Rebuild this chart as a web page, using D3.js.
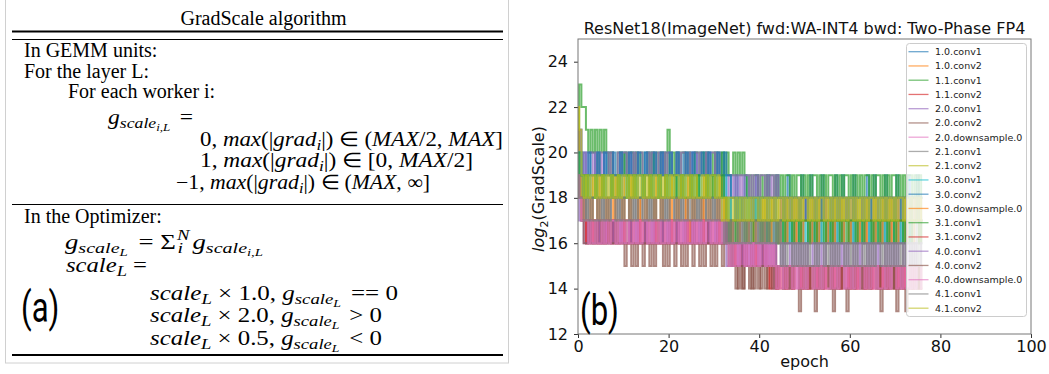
<!DOCTYPE html>
<html>
<head>
<meta charset="utf-8">
<script src="https://d3js.org/d3.v7.min.js"></script>
<style>
  html, body { margin: 0; padding: 0; background: #fff; }
  svg { display: block; }
</style>
</head>
<body>
<svg id="fig" width="1049" height="374"></svg>
<script>
// ---- data: log2(GradScale) per layer, sampled every half epoch ----
const layers = ['1.0.conv1','1.0.conv2','1.1.conv1','1.1.conv2','2.0.conv1','2.0.conv2','2.0.downsample.0',
  '2.1.conv1','2.1.conv2','3.0.conv1','3.0.conv2','3.0.downsample.0','3.1.conv1','3.1.conv2',
  '4.0.conv1','4.0.conv2','4.0.downsample.0','4.1.conv1','4.1.conv2'];
const epochStep = 0.5;
const xTicks = [0, 20, 40, 60, 80, 100];
const yTicks = [12, 14, 16, 18, 20, 22, 24];

const l1_0_conv1 = [20,21,
  19,20,19,19,20,20,19,20,19,19,20,19,20,20,19,19,19,20,19,20,19,19,20,19,20,19,19,19,20,20,
  19,20,19,19,19,20,19,20,20,19,19,19,20,19,19,20,19,19,20,19,20,19,19,19,20,19,20,19,19,20,19,19,20,19,19,19,
  18,18,19,18,18,18,19,18,18,18,18,19,18,18,18,18,19,18,18,18,19,18,18,18,18,19,18,18,18,18,
  18,19,18,18,18,19,18,18,18,18,19,18,18,18,18,18,19,18,18,19,18,18,18,18,19,18,18,18,18,18,
  19,18,18,19,18,18,18,18,19,18,18,18,18,19,18,18,18,18,19,18,18,18,19,18,18];
const l1_0_conv2 = [19,20,
  18,19,19,18,19,18,18,19,18,19,19,18,18,19,18,19,18,18,19,18,18,19,18,19,19,18,18,19,18,18,
  19,18,19,18,18,19,19,18,18,19,18,18,19,18,19,18,18,19,18,19,19,18,18,18,19,18,19,18,18,19,18,19,18,18,
  17,18,17,17,18,17,18,17,17,18,17,17,18,17,17,18,17,18,17,17,18,17,17,17,18,17,18,17,17,18,
  17,18,17,17,17,18,17,17,18,17,17,18,17,18,17,17,17,18,17,17,18,17,17,18,17,17,18,17,17,17,
  18,17,18,17,17,18,17,17,17,18,17,17,18,17,17,18,17,17,18,17,17,18,17,17,18,17,17];
const l1_1_conv1 = [21,23,22,22,21,20,21,20,21,19,21,20,21,
  20,19,20,19,19,20,20,19,20,19,20,20,19,20,19,20,19,19,20,19,20,19,20,19,20,20,19,21,19,20,
  19,20,19,20,20,19,20,19,19,20,20,19,20,19,20,19,19,20,19,20,19,20,19,20,19,19,20,19,20,19,20,
  19,18,19,18,19,19,18,19,18,19,18,19,19,18,19,18,19,18,19,19,18,19,18,19,19,18,19,18,19,18,
  19,19,18,19,18,19,18,19,19,18,19,18,19,18,19,19,18,19,18,19,18,19,18,19,19,18,19,18,19,19,
  18,19,18,19,18,19,19,18,19,18,19,18,19,19,18,19,18,19,18];
const l1_1_conv2 = [18,19,18,17,
  16,17,17,16,17,16,16,17,16,17,17,16,17,16,16,17,17,16,16,17,16,17,16,16,17,16,17,17,16,16,
  17,16,17,16,16,17,16,17,16,17,17,16,16,17,16,17,16,16,17,16,17,16,17,17,16,16,17,16,17,16,16,17,16,17,
  16,15,16,15,15,16,15,16,16,15,16,15,15,16,15,16,15,16,15,16,
  14,15,14,15,14,14,15,14,15,15,14,15,14,14,15,14,15,14,15,14,14,15,15,14,15,14,14,15,14,15,
  15,14,15,14,14,15,14,15,14,14,15,14,15,15,14,14,15,14,15,14,14,15,14,15,14,15,15,14,14,15,
  14,15,14,15,14];
const l2_0_conv1 = [20,21,
  19,20,19,20,20,19,20,19,20,19,20,20,19,20,19,19,20,19,20,20,19,20,19,20,19,20,20,19,19,20,
  19,20,20,19,20,19,20,19,20,20,19,19,20,19,20,20,19,20,19,20,20,19,20,19,19,20,19,20,20,19,20,
  19,18,19,18,19,19,18,19,18,19,18,19,19,18,19,18,19,18,19,19,18,19,18,19,18,19,18,
  17,18,17,18,17,17,18,17,18,17,18,17,17,18,17,18,18,17,17,18,17,18,17,17,18,17,18,17,18,17,
  17,18,17,18,17,17,18,18,17,17,18,17,18,17,17,18,17,18,17,18,17,17,18,17,18,17,17,18,17,18,
  17,18,17];
const l2_0_conv2 = [21,20,19,18,
  16,17,16,16,17,16,17,16,16,17,16,16,17,16,17,16,16,17,16,17,17,16,16,17,16,16,17,16,17,16,
  16,17,16,16,17,16,17,16,16,17,16,17,16,16,17,16,16,17,16,17,16,16,17,16,17,16,16,17,16,16,17,16,16,17,
  15,15,14,15,15,14,15,15,15,14,15,15,14,15,15,15,14,15,15,14,15,15,15,14,15,15,14,15,15,15,
  14,15,15,14,15,15,15,14,15,15,14,15,15,15,14,15,15,14,15,15,15,14,15,15,14,15,15,15,14,15,
  15,14,15,15,15,14,15,15,14,15,15,15,14,15,15,14,15,15,15,14,15,15,14,15,15];
const l2_0_downsample_0 = [20,19,18,17,
  16,17,16,17,17,16,17,16,17,16,17,16,16,17,16,17,16,17,17,16,17,16,17,16,17,16,16,17,16,17,
  16,17,17,16,17,16,17,16,16,17,16,17,16,17,16,17,17,16,17,16,17,16,17,16,16,17,16,17,16,17,16,17,16,17,
  16,15,16,15,16,16,15,16,15,16,15,16,15,16,16,15,16,15,
  14,15,14,15,15,14,15,14,15,14,15,14,15,14,14,15,14,15,15,14,15,14,15,14,15,14,15,15,14,15,
  14,15,14,15,14,15,14,14,15,14,15,14,15,15,14,15,14,15,14,15,14,15,14,15,15,14,15,14,15,14,
  15,14,15,14,15,14,15];
const l2_1_conv1 = [19,19,18,18,
  17,18,17,18,18,17,18,17,18,17,18,17,17,18,17,18,17,18,18,17,18,17,18,17,18,17,17,18,17,18,
  17,18,18,17,18,17,18,17,17,18,17,18,17,18,17,18,18,17,18,17,18,17,18,17,17,18,17,18,17,18,
  16,17,16,17,17,16,17,16,17,16,17,16,17,17,16,17,16,17,16,17,16,17,16,16,17,16,17,17,16,17,
  16,17,16,17,16,17,16,16,17,16,17,16,17,16,17,17,16,17,16,17,16,17,16,17,16,16,17,16,17,16,
  17,17,16,17,16,17,16,17,16,16,17,16,17,16,17,16,17,17,16,17,16,17,16,17,16,16,17,16,17];
const l2_1_conv2 = [22,20,
  18,19,18,19,19,18,19,18,18,19,18,19,19,18,19,18,19,18,18,19,19,18,19,18,19,19,18,19,18,18,
  19,18,19,19,18,19,18,19,18,19,18,18,19,18,19,18,19,19,18,19,18,19,18,18,19,18,19,18,19,19,18,19,
  18,17,18,17,18,18,17,18,17,18,17,18,17,18,18,17,18,17,18,17,18,17,18,18,17,18,17,18,17,18,
  18,17,18,17,18,17,18,18,17,18,17,18,17,18,17,18,18,17,18,17,18,17,18,17,18,18,17,18,17,18,
  17,18,18,17,18,17,18,17,18,18,17,18,17,18,17,18,17,18,18,17,18,17,18,17,18,18,17,18,17];
const l3_0_conv1 = [19,20,19,
  18,18,19,18,18,19,18,18,18,19,18,18,19,18,18,18,19,18,18,19,18,18,18,19,18,18,19,18,18,18,
  19,18,18,19,18,18,18,19,18,18,18,19,18,18,19,18,18,18,19,18,18,19,18,18,18,19,18,18,19,18,18,18,19,
  17,18,17,17,18,17,18,17,17,18,17,17,18,17,18,17,
  16,17,16,17,16,17,17,16,17,16,17,16,17,16,17,17,16,17,16,17,16,17,16,17,17,16,17,16,17,16,
  17,16,17,16,17,16,17,17,16,17,16,17,16,17,16,17,17,16,17,16,17,16,17,16,17,16,17,17,16,17,
  16,17,16,17,16,17,16,17,17,16,17];
const l3_0_conv2 = [20,20,19,
  19,19,20,19,19,19,20,19,19,20,19,19,19,20,19,19,20,19,19,19,20,19,19,19,20,19,19,20,19,19,
  19,20,19,19,20,19,19,19,20,19,19,20,19,19,19,20,19,19,20,19,19,19,20,19,19,20,19,19,19,20,19,19,20,19,19,
  18,18,17,18,18,17,18,18,18,17,18,18,17,18,18,18,17,18,18,17,18,18,18,17,18,18,17,18,18,18,
  17,18,18,17,18,18,18,17,18,18,17,18,18,18,17,18,18,17,18,18,18,17,18,18,17,18,18,18,17,18,
  18,17,18,18,18,17,18,18,17,18,18,18,17,18,18,17,18,18,18,17,18,18,17,18,18];
const l3_0_downsample_0 = [19,18,18,17,
  17,17,18,17,17,18,17,17,17,18,17,17,18,17,17,17,18,17,17,18,17,17,17,18,17,17,18,17,17,17,
  18,17,17,18,17,17,17,18,17,17,18,17,17,17,18,17,17,18,17,17,17,18,17,17,18,17,17,17,18,17,17,18,
  17,17,16,17,17,16,17,17,17,16,17,17,16,17,17,17,16,17,17,16,17,17,17,16,17,17,16,17,17,17,
  16,17,17,16,17,17,17,16,17,17,16,17,17,17,16,17,17,16,17,17,17,16,17,17,16,17,17,17,16,17,
  17,16,17,17,17,16,17,17,16,17,17,17,16,17,17,16,17,17,17,16,17,17,16,17,17,16,17];
const l3_1_conv1 = [20,19,19,
  18,19,18,18,18,19,18,18,19,18,18,18,19,18,18,19,18,18,18,19,18,18,19,18,18,18,19,18,18,19,
  18,18,18,19,18,18,19,18,18,18,19,18,18,19,18,18,18,19,18,18,19,18,18,18,19,18,18,19,18,18,18,19,18,
  17,16,17,17,16,17,17,17,16,17,17,16,17,17,17,16,17,17,16,17,17,17,16,17,17,16,17,17,17,16,
  17,17,16,17,17,17,16,17,17,16,17,17,17,16,17,17,16,17,17,17,16,17,17,16,17,17,17,16,17,17,
  16,17,17,17,16,17,17,16,17,17,17,16,17,17,16,17,17,17,16,17,17,16,17,17,17,16,17];
const l3_1_conv2 = [18,18,17,17,
  16,16,17,16,16,17,16,16,16,17,16,16,17,16,16,16,17,16,16,17,16,16,16,17,16,16,17,16,16,16,
  17,16,16,17,16,16,16,17,16,16,17,16,16,16,17,16,16,17,16,16,16,17,16,16,17,16,16,16,17,16,16,17,16,16,
  16,15,16,16,15,16,15,16,16,15,16,15,16,16,15,16,
  15,14,15,15,14,15,15,15,14,15,15,14,15,15,15,14,15,15,14,15,15,15,14,15,15,14,15,15,15,14,
  15,15,14,15,15,15,14,15,15,14,15,15,15,14,15,15,14,15,15,15,14,15,15,14,15,15,15,14,15,15,
  14,15,15,15,14,15,15,14,15];
const l4_0_conv1 = [18,17,17,16,
  16,17,16,16,16,17,16,16,17,16,16,16,17,16,16,17,16,16,16,17,16,16,17,16,16,16,17,16,16,17,
  16,16,16,17,16,16,17,16,16,16,17,16,16,17,16,16,16,17,16,16,17,16,16,16,17,16,16,17,16,16,16,17,
  15,16,15,16,16,15,16,15,16,15,16,15,16,16,15,16,15,16,15,16,15,16,15,15,16,15,16,16,15,16,
  15,16,15,16,15,16,15,15,16,15,16,15,16,15,16,16,15,16,15,16,15,16,15,16,15,15,16,15,16,15,
  16,16,15,16,15,16,15,16,15,15,16,15,16,15,16,15,16,16,15,16,15,16,15,16,15,15,16];
const l4_0_conv2 = [19,18,17,16,
  16,17,16,16,17,16,16,17,16,16,17,16,16,17,16,16,
  16,15,16,16,15,16,15,16,16,15,16,16,15,16,15,16,16,16,15,16,15,16,16,15,16,16,15,16,15,16,
  16,15,16,16,15,16,15,16,16,15,16,15,16,16,15,16,16,15,16,15,
  15,14,15,14,15,15,14,15,14,15,15,14,15,14,15,15,14,15,14,15,
  15,14,15,14,15,14,15,15,13,14,15,14,15,14,15,13,14,15,14,15,15,14,15,13,14,15,14,15,14,13,
  14,15,14,15,15,14,15,14,15,14,15,15,14,15,13,14,15,14,15,14,15,13,14,15,14,13,14,15,14,15,
  14,15,14];
const l4_0_downsample_0 = [19,18,17,17,
  17,16,17,16,17,16,16,17,16,17,16,17,17,16,17,16,17,16,17,16,16,17,16,17,16,17,17,16,17,16,
  17,16,17,16,16,17,16,17,16,17,17,16,17,16,17,16,16,17,16,17,16,17,16,17,17,16,17,16,17,16,17,16,
  16,15,16,15,16,15,16,16,15,16,15,16,15,16,15,16,16,15,16,15,16,15,
  14,15,14,15,14,15,15,14,15,14,15,14,15,14,15,15,14,15,14,15,14,15,14,14,15,14,15,14,15,15,
  14,15,14,15,14,15,14,15,15,14,15,14,15,14,15,14,14,15,14,15,14,15,15,14,15,14,15,14,15,14,
  15,14,15,15,14];
const l4_1_conv1 = [19,18,18,17,
  18,17,18,17,17,18,17,18,17,18,17,18,18,17,18,17,18,17,17,18,17,18,17,18,18,17,18,17,18,17,
  18,17,17,18,17,18,17,18,18,17,18,17,18,17,17,18,17,18,17,18,17,18,18,17,18,17,18,17,18,17,
  17,16,17,16,17,16,16,17,16,17,16,17,16,17,17,16,17,16,17,16,17,16,16,17,16,17,
  15,16,15,16,16,15,16,15,16,15,16,15,16,15,15,16,15,16,16,15,16,15,16,15,16,15,16,16,15,16,
  15,16,15,16,15,15,16,15,16,15,16,15,16,16,15,16,15,16,15,16,15,16,15,16,15,16,16,15,16,15,
  16,15,16];
const l4_1_conv2 = [22,21,
  19,18,19,18,19,19,18,19,18,19,18,19,18,19,18,18,19,18,19,19,18,19,18,19,18,19,19,18,19,18,
  19,18,19,18,19,18,18,19,18,19,18,19,19,18,19,18,19,18,19,18,19,18,18,19,18,19,18,19,19,18,19,18,
  17,18,17,18,18,17,18,17,18,17,18,17,18,17,18,18,17,18,17,18,17,18,17,18,17,18,18,17,18,17,
  18,17,18,17,18,17,18,18,17,18,17,18,17,18,18,17,18,17,18,17,18,17,18,17,18,17,18,18,17,18,
  17,18,17,18,17,18,18,17,18,17,18,17,18,17,18,17,18,17,18,18,17,18,17,18,17,18,17,18,17];

const seriesValues = [l1_0_conv1, l1_0_conv2, l1_1_conv1, l1_1_conv2, l2_0_conv1, l2_0_conv2, l2_0_downsample_0,
  l2_1_conv1, l2_1_conv2, l3_0_conv1, l3_0_conv2, l3_0_downsample_0, l3_1_conv1, l3_1_conv2,
  l4_0_conv1, l4_0_conv2, l4_0_downsample_0, l4_1_conv1, l4_1_conv2];

const svg = d3.select('#fig');
const serif = '"Liberation Serif", "Times New Roman", serif';
const sans = '"DejaVu Sans", sans-serif';

// ---------------- panel (a): algorithm box ----------------
const pa = svg.append('g');
pa.append('rect').attr('x', 5.5).attr('y', -1).attr('width', 503).attr('height', 364)
  .attr('fill', 'none').attr('stroke', '#d0d0d0');
pa.append('text').attr('x', 263.5).attr('y', 25).attr('text-anchor', 'middle')
  .style('font-family', serif).style('font-size', '20px').text('GradScale algorithm');
[[31.5, 2], [39.5, 1], [204.5, 1], [355, 2]].forEach(([yy, w]) =>
  pa.append('line').attr('x1', 12).attr('x2', 503).attr('y1', yy).attr('y2', yy)
    .attr('stroke', '#000').attr('stroke-width', w));

// pieces of a math line: r roman, i italic, s subscript, ss sub-subscript, sup superscript
const sty = {
  r: { size: 20, shift: 0, italic: false },
  i: { size: 20, shift: 0, italic: true },
  s: { size: 15, shift: 4, italic: true },
  ss: { size: 11, shift: 7, italic: true },
  sup: { size: 14, shift: -9, italic: true }
};
function mathLine(x, y, parts, width) {
  const t = pa.append('text').attr('x', x).attr('y', y).style('font-family', serif);
  let cur = 0;
  parts.forEach(([txt, k, dx]) => {
    const s = sty[k];
    const ts = t.append('tspan').attr('dy', s.shift - cur).style('font-size', s.size + 'px')
      .style('font-style', s.italic ? 'italic' : 'normal').text(txt);
    if (dx) ts.attr('dx', dx);
    cur = s.shift;
  });
  if (width) t.attr('textLength', width).attr('lengthAdjust', 'spacingAndGlyphs');
  return t;
}
mathLine(24, 57, [['In GEMM units:', 'r']]);
mathLine(24, 78, [['For the layer L:', 'r']]);
mathLine(68, 98, [['For each worker i:', 'r']]);
mathLine(108, 124, [['g', 'i'], ['scale', 's'], ['i,L', 'ss'], [' =', 'r', 3]], 85);
mathLine(200, 146, [['0, ', 'r'], ['max', 'i'], ['(|', 'r'], ['grad', 'i'], ['i', 's'], ['|) ∈ (', 'r'],
  ['MAX', 'i'], ['/2, ', 'r'], ['MAX', 'i'], [']', 'r']], 303);
mathLine(200, 167, [['1, ', 'r'], ['max', 'i'], ['(|', 'r'], ['grad', 'i'], ['i', 's'], ['|) ∈ [0, ', 'r'],
  ['MAX', 'i'], ['/2]', 'r']], 273);
mathLine(176, 189, [['−1, ', 'r'], ['max', 'i'], ['(|', 'r'], ['grad', 'i'], ['i', 's'], ['|) ∈ (', 'r'],
  ['MAX', 'i'], [', ∞]', 'r']], 254);
mathLine(24, 223, [['In the Optimizer:', 'r']]);
// summation with stacked limits
mathLine(65, 249, [['g', 'i'], ['scale', 's'], ['L', 'ss'], [' = ', 'r', 3], ['Σ', 'r'], ['N', 'sup', 1],
  ['i', 's', -9], ['   g', 'i', 2], ['scale', 's'], ['i,L', 'ss']], 198);
mathLine(66, 272, [['scale', 'i'], ['L', 's'], [' =', 'r']], 81);
[['1.0', ' == 0', 300, 248], ['2.0', ' > 0', 322, 232], ['0.5', ' < 0', 345, 232]].forEach(([f, c, yy, w]) =>
  mathLine(150, yy, [['scale', 'i'], ['L', 's'], [` × ${f},  `, 'r'], ['g', 'i'], ['scale', 's'], ['L', 'ss'], [c, 'r', 3]], w));
pa.append('text').attr('transform', 'translate(21,322) scale(0.74,1)')
  .style('font-family', 'Roboto, sans-serif').style('font-size', '42px').text('(a)');

// ---------------- panel (b): chart ----------------
const m = { left: 578, right: 1031, top: 39, bottom: 334 };
const x = d3.scaleLinear().domain([0, 100]).range([m.left, m.right]);
const y = d3.scaleLinear().domain([12, 25]).range([m.bottom, m.top]);

svg.append('defs').append('clipPath').attr('id', 'plotclip').append('rect')
  .attr('x', m.left).attr('y', m.top).attr('width', m.right - m.left).attr('height', m.bottom - m.top);

// each sample holds its value for half an epoch; transitions are vertical
const line = d3.line().curve(d3.curveStep).x((d, i) => x(i * epochStep)).y(d => y(d));
const plot = svg.append('g').attr('clip-path', 'url(#plotclip)');
seriesValues.forEach((vals, k) => {
  plot.append('path').attr('d', line(vals)).attr('fill', 'none')
    .attr('stroke', d3.schemeCategory10[k % 10]).attr('stroke-width', 2).attr('stroke-opacity', 0.7);
});

const yAxis = svg.append('g').attr('transform', `translate(${m.left},0)`)
  .call(d3.axisLeft(y).tickValues(yTicks).tickSize(4).tickPadding(6));
const xAxis = svg.append('g').attr('transform', `translate(0,${m.bottom})`)
  .call(d3.axisBottom(x).tickValues(xTicks).tickSize(4).tickPadding(3));
[yAxis, xAxis].forEach(a => {
  a.select('.domain').remove();
  a.selectAll('line').attr('stroke', '#333');
  a.selectAll('text').style('font-family', sans).style('font-size', '16px').attr('fill', '#111');
});
svg.append('rect').attr('x', m.left).attr('y', m.top).attr('width', m.right - m.left).attr('height', m.bottom - m.top)
  .attr('fill', 'none').attr('stroke', '#777').attr('stroke-width', 1);

svg.append('text').attr('x', (m.left + m.right) / 2).attr('y', 34).attr('text-anchor', 'middle')
  .style('font-family', sans).style('font-size', '16px').attr('fill', '#111')
  .text('ResNet18(ImageNet) fwd:WA-INT4 bwd: Two-Phase FP4');
svg.append('text').attr('x', (m.left + m.right) / 2).attr('y', 367).attr('text-anchor', 'middle')
  .style('font-family', sans).style('font-size', '16px').attr('fill', '#111').text('epoch');
const yl = svg.append('text').attr('transform', 'translate(544,189) rotate(-90)').attr('text-anchor', 'middle')
  .style('font-family', sans).style('font-size', '16px').attr('fill', '#111');
yl.append('tspan').style('font-style', 'italic').text('log');
yl.append('tspan').attr('dy', 4).style('font-size', '11px').text('2');
yl.append('tspan').attr('dy', -4).text('(GradScale)');

// legend
const lg = svg.append('g');
lg.append('rect').attr('x', 906.5).attr('y', 43.5).attr('width', 120).attr('height', 273).attr('rx', 3)
  .attr('fill', '#fff').attr('fill-opacity', 0.8).attr('stroke', '#ccc');
layers.forEach((name, k) => {
  const yy = 51.7 + k * 14.25;
  lg.append('line').attr('x1', 908.5).attr('x2', 928.5).attr('y1', yy).attr('y2', yy)
    .attr('stroke', d3.schemeCategory10[k % 10]).attr('stroke-width', 1.3).attr('stroke-opacity', 0.65);
  lg.append('text').attr('x', 935).attr('y', yy).attr('dy', '0.36em')
    .style('font-family', sans).style('font-size', '9.5px').attr('fill', '#222').text(name);
});
svg.append('text').attr('transform', 'translate(580,325) scale(0.74,1)')
  .style('font-family', 'Roboto, sans-serif').style('font-size', '42px').text('(b)');
</script>
</body>
</html>
